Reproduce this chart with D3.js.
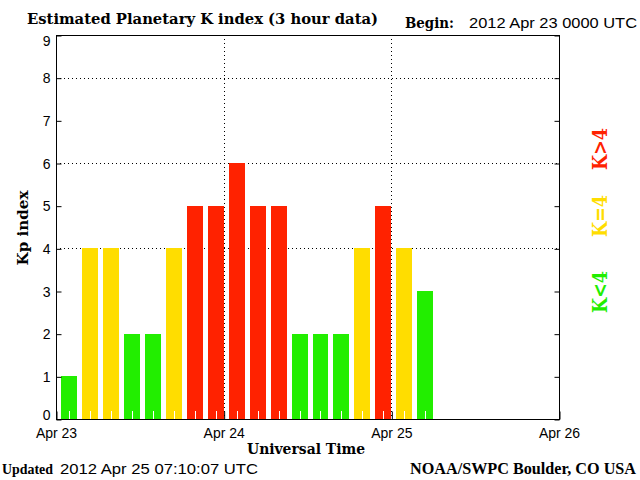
<!DOCTYPE html>
<html>
<head>
<meta charset="utf-8">
<script src="https://cdn.jsdelivr.net/npm/d3@7"></script>
<style>
  html, body { margin: 0; padding: 0; background: #fff; }
  svg { display: block; }
  .serif { font-family: "DejaVu Serif", "Liberation Serif", serif; font-weight: bold; }
  .serif2 { font-family: "Liberation Serif", "DejaVu Serif", serif; font-weight: bold; }
  .sans { font-family: "Liberation Sans", Arial, sans-serif; }
</style>
</head>
<body>
<svg id="chart" width="640" height="480"></svg>
<script>
// ---- data ----
const startTime = "2012-04-23T00:00:00Z";
const endTime = "2012-04-26T00:00:00Z";
const kpValues = [1, 4, 4, 2, 2, 4, 5, 5, 6, 5, 5, 2, 2, 2, 4, 5, 4, 3];
const dayTicks = ["2012-04-23T00:00:00Z", "2012-04-24T00:00:00Z", "2012-04-25T00:00:00Z", "2012-04-26T00:00:00Z"];
const dayLabels = ["Apr 23", "Apr 24", "Apr 25", "Apr 26"];
const yTickValues = [0, 1, 2, 3, 4, 5, 6, 7, 8, 9];
const gridLevels = [4, 6, 8];
const gridDays = ["2012-04-24T00:00:00Z", "2012-04-25T00:00:00Z"];
const legendLabels = ["K<4", "K=4", "K>4"];
const legendColors = ["#22ee00", "#ffdd00", "#ff2200"];

const titleText = "Estimated Planetary K index (3 hour data)";
const beginLabel = "Begin:";
const beginText = "2012 Apr 23 0000 UTC";
const updatedLabel = "Updated";
const updatedText = "2012 Apr 25 07:10:07 UTC";
const sourceText = "NOAA/SWPC Boulder, CO USA";
const xTitle = "Universal Time";
const yTitle = "Kp index";

// ---- layout ----
const svg = d3.select("#chart");
const plot = { left: 56, right: 559, top: 35, bottom: 419 };
const slotHours = 3;

const x = d3.scaleUtc()
  .domain([new Date(startTime), new Date(endTime)])
  .range([plot.left, plot.right]);
const y = d3.scaleLinear().domain([0, 9]).range([plot.bottom, plot.top]);

const colorFor = v => v < 4 ? legendColors[0] : (v === 4 ? legendColors[1] : legendColors[2]);
const slotDate = i => new Date(new Date(startTime).getTime() + i * slotHours * 3600e3);

// dotted grid
svg.append("g").selectAll("line").data(gridLevels).join("line")
  .attr("x1", plot.left).attr("x2", plot.right)
  .attr("y1", d => Math.round(y(d)) + 0.5).attr("y2", d => Math.round(y(d)) + 0.5)
  .attr("stroke", "#000").attr("stroke-width", 1).attr("stroke-dasharray", "1,3");
svg.append("g").selectAll("line").data(gridDays).join("line")
  .attr("x1", d => Math.round(x(new Date(d))) + 0.5).attr("x2", d => Math.round(x(new Date(d))) + 0.5)
  .attr("y1", plot.top).attr("y2", plot.bottom)
  .attr("stroke", "#000").attr("stroke-width", 1).attr("stroke-dasharray", "1,3");

// bars
svg.append("g").attr("shape-rendering", "crispEdges").selectAll("rect").data(kpValues).join("rect")
  .attr("x", (d, i) => Math.round(x(slotDate(i)) + 5))
  .attr("width", (d, i) => Math.round(x(slotDate(i + 1))) - Math.round(x(slotDate(i)) + 5))
  .attr("y", d => Math.round(y(d)))
  .attr("height", d => plot.bottom - Math.round(y(d)))
  .attr("fill", d => colorFor(d));

// white 3-hour ticks at bar centres
svg.append("g").selectAll("line").data(kpValues).join("line")
  .attr("x1", (d, i) => Math.round((x(slotDate(i)) + 5 + x(slotDate(i + 1))) / 2) + 0.5)
  .attr("x2", (d, i) => Math.round((x(slotDate(i)) + 5 + x(slotDate(i + 1))) / 2) + 0.5)
  .attr("y1", plot.bottom - 8).attr("y2", plot.bottom)
  .attr("stroke", "#fff").attr("stroke-width", 1);

// axes
const yAxisL = svg.append("g").attr("transform", `translate(${plot.left + 0.5},0)`)
  .call(d3.axisLeft(y).tickValues(yTickValues).tickSize(-5).tickPadding(6).tickFormat(d3.format("d")));
yAxisL.select(".domain").remove();
yAxisL.selectAll("text").attr("class", "sans").style("font-size", "14px").attr("fill", "#000")
  .attr("dy", d => d === 9 ? "0.72em" : (d === 0 ? "0em" : "0.36em"));
yAxisL.selectAll("line").attr("transform", "translate(0,0.5)");

const yAxisR = svg.append("g").attr("transform", `translate(${plot.right + 0.5},0)`)
  .call(d3.axisRight(y).tickValues(yTickValues).tickSize(-5).tickFormat(""));
yAxisR.select(".domain").remove();
yAxisR.selectAll("line").attr("transform", "translate(0,0.5)");

const xAxis = svg.append("g").attr("transform", `translate(0,${plot.bottom + 0.5})`)
  .call(d3.axisBottom(x).tickValues(dayTicks.map(d => new Date(d)))
    .tickSize(-8).tickPadding(9).tickFormat((d, i) => dayLabels[i]));
xAxis.select(".domain").remove();
xAxis.selectAll("line").attr("transform", "translate(0.5,0)");
xAxis.selectAll("text").attr("class", "sans").style("font-size", "14px").attr("fill", "#000");

// frame
svg.append("rect")
  .attr("x", plot.left + 0.5).attr("y", plot.top + 0.5)
  .attr("width", plot.right - plot.left).attr("height", plot.bottom - plot.top)
  .attr("fill", "none").attr("stroke", "#000").attr("stroke-width", 1);

// texts
svg.append("text").attr("class", "serif").attr("x", 27).attr("y", 24)
  .style("font-size", "15px").attr("textLength", 351).attr("lengthAdjust", "spacingAndGlyphs")
  .text(titleText);
svg.append("text").attr("class", "serif").attr("x", 405).attr("y", 28)
  .style("font-size", "14px").attr("textLength", 49).attr("lengthAdjust", "spacingAndGlyphs")
  .text(beginLabel);
svg.append("text").attr("class", "sans").attr("x", 469).attr("y", 28)
  .style("font-size", "14px").attr("textLength", 168).attr("lengthAdjust", "spacingAndGlyphs")
  .text(beginText);

svg.append("text").attr("class", "serif").attr("x", 306).attr("y", 454).attr("text-anchor", "middle")
  .style("font-size", "14px").attr("textLength", 118).attr("lengthAdjust", "spacingAndGlyphs")
  .text(xTitle);

svg.append("text").attr("class", "serif2").attr("x", 2).attr("y", 474)
  .style("font-size", "15px").attr("textLength", 51).attr("lengthAdjust", "spacingAndGlyphs")
  .text(updatedLabel);
svg.append("text").attr("class", "sans").attr("x", 60).attr("y", 474)
  .style("font-size", "14px").attr("textLength", 198).attr("lengthAdjust", "spacingAndGlyphs")
  .text(updatedText);
svg.append("text").attr("class", "serif2").attr("x", 636).attr("y", 474).attr("text-anchor", "end")
  .style("font-size", "16px").attr("textLength", 226).attr("lengthAdjust", "spacingAndGlyphs")
  .text(sourceText);

svg.append("text").attr("class", "serif")
  .attr("transform", "translate(28,228) rotate(-90)").attr("text-anchor", "middle")
  .style("font-size", "15px").attr("textLength", 75).attr("lengthAdjust", "spacingAndGlyphs")
  .text(yTitle);

// colour key on the right
const legendCenters = [292, 216, 149];
svg.append("g").selectAll("text").data(legendLabels).join("text")
  .attr("class", "serif")
  .attr("transform", (d, i) => `translate(607,${legendCenters[i]}) rotate(-90)`)
  .attr("text-anchor", "middle")
  .style("font-size", "21px").attr("textLength", 42).attr("lengthAdjust", "spacingAndGlyphs")
  .attr("fill", (d, i) => legendColors[i])
  .text(d => d);
</script>
</body>
</html>
